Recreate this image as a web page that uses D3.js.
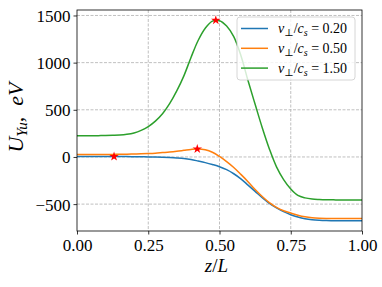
<!DOCTYPE html>
<html>
<head>
<meta charset="utf-8">
<script src="https://cdn.jsdelivr.net/npm/d3@7"></script>
<style>
  body { margin: 0; background: #fff; }
  svg { display: block; }
  text { font-family: "Liberation Serif", "DejaVu Serif", serif; fill: #000; }
</style>
</head>
<body>
<svg id="chart"></svg>
<script>
"use strict";

// positions along z/L
var zVals = [0, 0.025, 0.05, 0.075, 0.1, 0.125, 0.15, 0.175, 0.2, 0.225,
             0.25, 0.275, 0.3, 0.325, 0.35, 0.375, 0.4, 0.425, 0.45, 0.475,
             0.5, 0.525, 0.55, 0.575, 0.6, 0.625, 0.65, 0.675, 0.7, 0.725,
             0.75, 0.775, 0.8, 0.825, 0.85, 0.875, 0.9, 0.925, 0.95, 0.975, 1.0];

var blueVals   = [5, 5, 5, 5, 5, 5, 4, 4, 3, 2,
                  0, -1, -3, -6, -10, -16, -27, -43, -60, -80,
                  -103, -135, -178, -232, -298, -365, -432, -492, -540, -580,
                  -612, -637, -655, -666, -672, -675, -676, -677, -677, -677, -677];
var orangeVals = [25, 25, 25, 26, 26, 27, 28, 29, 31, 33,
                  36, 40, 46, 52, 60, 70, 80, 85, 76, 50,
                  5, -50, -112, -185, -262, -345, -420, -485, -535, -570,
                  -595, -618, -635, -645, -650, -652, -652, -652, -652, -652, -652];
var greenVals  = [225, 225, 225, 226, 227, 229, 232, 240, 255, 282,
                  322, 380, 458, 565, 700, 860, 1055, 1235, 1365, 1440,
                  1445, 1388, 1275, 1075, 810, 558, 310, 85, -105, -240,
                  -340, -408, -434, -446, -451, -454, -455, -456, -456, -457, -457];

var seriesNames = ["0.20", "0.50", "1.50"];
var colors = ["#1f77b4", "#ff7f0e", "#2ca02c"];

// red star markers (z, value)
var markZ = [0.13, 0.422, 0.487];
var markV = [5, 85, 1450];

var xTicks = [0, 0.25, 0.5, 0.75, 1.0];
var yTicks = [-500, 0, 500, 1000, 1500];

var width = 382, height = 287;
var margin = {top: 10, right: 20, bottom: 56, left: 77};

var svg = d3.select("#chart")
    .attr("width", width)
    .attr("height", height);

var x = d3.scaleLinear().domain([0, 1]).range([margin.left, width - margin.right]);
var y = d3.scaleLinear().domain([-785, 1558]).range([height - margin.bottom, margin.top]);

// grid
var grid = svg.append("g");
grid.selectAll(".gx").data(xTicks.slice(1, -1)).enter().append("line")
    .attr("x1", d => x(d)).attr("x2", d => x(d))
    .attr("y1", y.range()[1]).attr("y2", y.range()[0])
    .attr("stroke", "#b0b0b0").attr("stroke-width", 0.8)
    .attr("stroke-dasharray", "3,1.5");
grid.selectAll(".gy").data(yTicks).enter().append("line")
    .attr("x1", x.range()[0]).attr("x2", x.range()[1])
    .attr("y1", d => y(d)).attr("y2", d => y(d))
    .attr("stroke", "#b0b0b0").attr("stroke-width", 0.8)
    .attr("stroke-dasharray", "3,1.5");

// lines
var allSeries = [blueVals, orangeVals, greenVals];
var line = d3.line()
    .x((d, i) => x(zVals[i]))
    .y(d => y(d))
    .curve(d3.curveCatmullRom.alpha(0.5));

svg.append("g").selectAll("path").data(allSeries).enter().append("path")
    .attr("d", d => line(d))
    .attr("fill", "none")
    .attr("stroke", (d, i) => colors[i])
    .attr("stroke-width", 1.5);

// markers
svg.append("g").selectAll("path").data(markZ).enter().append("path")
    .attr("d", d3.symbol().type(d3.symbolStar).size(28))
    .attr("transform", (d, i) => "translate(" + x(d) + "," + y(markV[i]) + ")")
    .attr("fill", "red");

// axes
var xAxis = svg.append("g")
    .attr("transform", "translate(0," + y.range()[0] + ")")
    .call(d3.axisBottom(x).tickValues(xTicks).tickFormat(d3.format(".2f")).tickSizeOuter(0).tickSize(3.5).tickPadding(4.5));
var yAxis = svg.append("g")
    .attr("transform", "translate(" + x.range()[0] + ",0)")
    .call(d3.axisLeft(y).tickValues(yTicks).tickFormat(d => d < 0 ? "\u2212" + Math.abs(d) : d).tickSizeOuter(0).tickSize(3.5).tickPadding(3));
[xAxis, yAxis].forEach(function(a) {
    a.selectAll("text").style("font-family", "Liberation Serif").style("font-size", "17px").attr("fill", "#000");
    a.selectAll("line").attr("stroke", "#000").attr("stroke-width", 0.8);
    a.select(".domain").remove();
});
xAxis.selectAll("text").attr("dy", "0.72em");
yAxis.selectAll("text").attr("dy", "0.35em");

// frame
svg.append("rect")
    .attr("x", x.range()[0]).attr("y", y.range()[1])
    .attr("width", x.range()[1] - x.range()[0])
    .attr("height", y.range()[0] - y.range()[1])
    .attr("fill", "none").attr("stroke", "#000").attr("stroke-width", 0.8);

// axis labels
var xl = svg.append("text")
    .attr("x", (x.range()[0] + x.range()[1]) / 2 - 3)
    .attr("y", 272)
    .attr("text-anchor", "middle")
    .style("font-size", "19px").style("font-style", "italic");
xl.append("tspan").text("z");
xl.append("tspan").style("font-style", "normal").text("/");
xl.append("tspan").text("L");

var yl = svg.append("text")
    .attr("transform", "translate(23," + ((y.range()[0] + y.range()[1]) / 2 - 3) + ") rotate(-90)")
    .attr("text-anchor", "middle")
    .style("font-size", "22px").style("font-style", "italic");
yl.append("tspan").text("U");
yl.append("tspan").attr("dy", 4).style("font-size", "15px").text("Yu");
yl.append("tspan").attr("dy", -4).style("font-style", "normal").text(",\u2002");
yl.append("tspan").text("eV");

// legend
var lg = svg.append("g").attr("transform", "translate(237,17)");
lg.append("rect")
    .attr("width", 118).attr("height", 63).attr("rx", 3)
    .attr("fill", "#fff").attr("fill-opacity", 0.8)
    .attr("stroke", "#cccccc").attr("stroke-width", 0.8);
seriesNames.forEach(function(name, i) {
    var yy = 11.5 + i * 19.8;
    lg.append("line")
        .attr("x1", 4).attr("x2", 31)
        .attr("y1", yy).attr("y2", yy)
        .attr("stroke", colors[i]).attr("stroke-width", 1.5);
    var t = lg.append("text")
        .attr("x", 41).attr("y", yy + 4.5)
        .style("font-size", "14px");
    t.append("tspan").style("font-style", "italic").text("v");
    t.append("tspan").attr("dy", 3).style("font-size", "10px").text("\u22a5");
    t.append("tspan").attr("dy", -3).text("/");
    t.append("tspan").style("font-style", "italic").text("c");
    t.append("tspan").attr("dy", 3).style("font-size", "10px").style("font-style", "italic").text("s");
    t.append("tspan").attr("dy", -3).text(" = " + name);
});
</script>
</body>
</html>
